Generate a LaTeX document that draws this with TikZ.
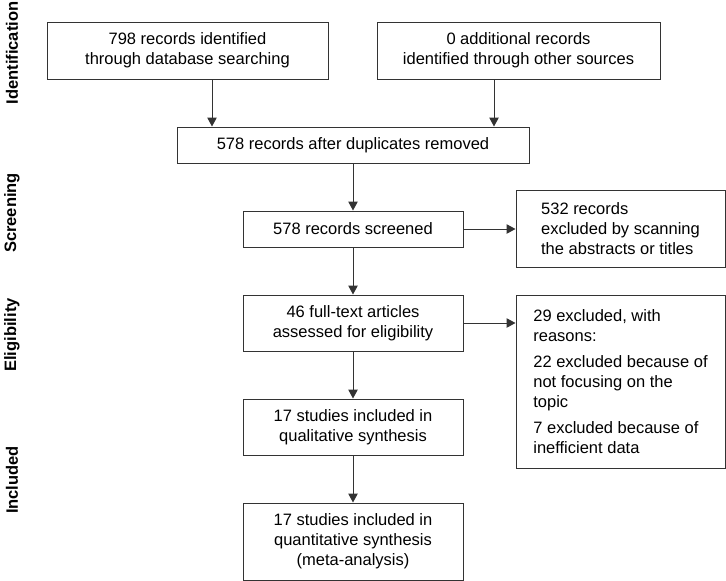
\documentclass[tikz,border=0pt]{standalone}
\usepackage{fontspec}
\setmainfont{Liberation Sans}
\usetikzlibrary{arrows.meta}
\definecolor{ln}{HTML}{333333}
\tikzset{
  box/.style={draw=ln, line width=1pt, align=center, inner sep=0pt,
    font=\fontsize{16.5}{20}\selectfont, text=black},
  lbox/.style={box, align=left},
  arr/.style={draw=ln, line width=1pt, -{Triangle[length=9pt,width=9.5pt]}},
  side/.style={rotate=90, font=\fontsize{16.5}{20}\selectfont\bfseries, text=black}
}
\begin{document}
\begin{tikzpicture}[x=1pt, y=-1pt]
\useasboundingbox (0,0) rectangle (726,581);
% side labels
\node[side] (lid) at (12,53) {Identification};
\node[side] (lsc) at (12,213) {Screening};
\node[side] (lel) at (12,335) {Eligibility};
\node[side] (lin) at (12,480) {Included};
% boxes
\node[box, minimum width=281pt, minimum height=57pt] (db) at (187.5,50.5) {798 records identified\\through database searching};
\node[box, minimum width=283pt, minimum height=57pt] (ot) at (518.5,50.5) {0 additional records\\identified through other sources};
\node[box, minimum width=352pt, minimum height=36pt] (dup) at (353,145) {578 records after duplicates removed};
\node[box, minimum width=220pt, minimum height=36pt] (scr) at (353,229) {578 records screened};
\node[lbox, minimum width=209pt, minimum height=77pt] (exc) at (620.5,228.5) {532 records\\excluded by scanning\\the abstracts or titles};
\node[box, minimum width=220pt, minimum height=56pt] (ft) at (353,323) {46 full-text articles\\assessed for eligibility};
\node[lbox, minimum width=209pt, minimum height=173pt] (rsn) at (620.5,381.5) {29 excluded, with\\reasons:\\[6pt]22 excluded because of\\not focusing on the\\topic\\[6pt]7 excluded because of\\inefficient data};
\node[box, minimum width=220pt, minimum height=56pt] (qual) at (353,427) {17 studies included in\\qualitative synthesis};
\node[box, minimum width=220pt, minimum height=77pt] (quan) at (353,541.5) {17 studies included in\\quantitative synthesis\\(meta-analysis)};
% connectors
\draw[arr] (db.south -| 212,0) -- (dup.north -| 212,0);
\draw[arr] (ot.south -| 494,0) -- (dup.north -| 494,0);
\draw[arr] (dup) -- (scr);
\draw[arr] (scr) -- (exc.west |- scr);
\draw[arr] (scr) -- (ft);
\draw[arr] (ft) -- (rsn.west |- ft);
\draw[arr] (ft) -- (qual);
\draw[arr] (qual) -- (quan);
\end{tikzpicture}
\end{document}
